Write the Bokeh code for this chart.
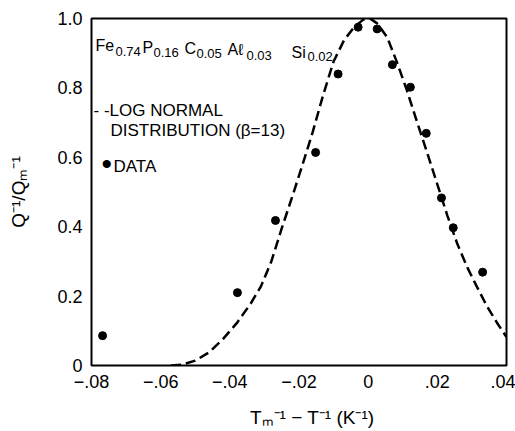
from bokeh.plotting import figure
from bokeh.models import Range1d, FixedTicker, Label, ColumnDataSource
from bokeh.embed import file_html
from bokeh.resources import INLINE

# ---- data ----
data_x = [-0.0768, -0.0378, -0.0268, -0.0152, -0.0087, -0.0029, 0.0026, 0.0070,
          0.0122, 0.0168, 0.0212, 0.0246, 0.0331]
data_y = [0.086, 0.210, 0.418, 0.614, 0.840, 0.975, 0.970, 0.867,
          0.802, 0.669, 0.483, 0.397, 0.269]

curve_x = [-0.0570, -0.0540, -0.0500, -0.0460, -0.0420, -0.0380, -0.0340, -0.0310,
           -0.0280, -0.0250, -0.0220, -0.0190, -0.0160, -0.0130, -0.0100, -0.0070,
           -0.0040, -0.0015, 0.0005, 0.0026, 0.0055, 0.0084, 0.0113, 0.0142,
           0.0171, 0.0200, 0.0229, 0.0258, 0.0287, 0.0315, 0.0344, 0.0372, 0.0400]
curve_y = [0.000, 0.002, 0.014, 0.038, 0.076, 0.122, 0.178, 0.228,
           0.300, 0.395, 0.485, 0.578, 0.674, 0.780, 0.876, 0.937,
           0.976, 0.996, 1.000, 0.986, 0.946, 0.872, 0.790, 0.700,
           0.612, 0.522, 0.432, 0.350, 0.282, 0.226, 0.170, 0.124, 0.082]

x_ticks = [-0.08, -0.06, -0.04, -0.02, 0.0, 0.02, 0.04]
x_tick_labels = ["\u2212.08", "\u2212.06", "\u2212.04", "\u2212.02", "0", ".02", ".04"]
y_ticks = [0.0, 0.2, 0.4, 0.6, 0.8, 1.0]
y_tick_labels = ["0", "0.2", "0.4", "0.6", "0.8", "1.0"]

x_title = "\u00a0" * 5 + "T\u2098\u207b\u00b9 \u2212 T\u207b\u00b9 (K\u207b\u00b9)"
y_title = "Q\u207b\u00b9/Q\u2098\u207b\u00b9"

# ---- layout ----
W, H = 515, 431
L, R, T, B = 91, 9, 18, 66
FONT = "Liberation Sans"
X0, X1 = -0.08, 0.04
Y0, Y1 = 0.0, 1.0

p = figure(width=W, height=H, output_backend="svg", toolbar_location=None,
           title=None, x_range=Range1d(X0, X1), y_range=Range1d(Y0, Y1),
           min_border_left=L, min_border_right=R, min_border_top=T, min_border_bottom=B)
p.background_fill_color = "white"
p.border_fill_color = "white"
p.grid.visible = False
p.outline_line_color = "black"
p.outline_line_width = 2
p.outline_line_alpha = 1.0

for ax, ticks, labels, standoff, title, tstand in (
        (p.xaxis[0], x_ticks, x_tick_labels, 9, x_title, 16),
        (p.yaxis[0], y_ticks, y_tick_labels, 9, y_title, 25)):
    ax.ticker = FixedTicker(ticks=ticks)
    ax.major_label_overrides = {t: l for t, l in zip(ticks, labels)}
    ax.major_tick_line_color = None
    ax.minor_tick_line_color = None
    ax.major_tick_in = 0
    ax.major_tick_out = 0
    ax.axis_line_color = None
    ax.major_label_text_font = FONT
    ax.major_label_text_font_size = "18px"
    ax.major_label_text_color = "black"
    ax.major_label_standoff = standoff
    ax.axis_label = title
    ax.axis_label_text_font = FONT
    ax.axis_label_text_font_size = "19px"
    ax.axis_label_text_font_style = "normal"
    ax.axis_label_text_color = "black"
    ax.axis_label_standoff = tstand

src_c = ColumnDataSource(dict(x=curve_x, y=curve_y))
p.line("x", "y", source=src_c, line_color="black", line_width=2.5, line_dash="10 5")
src_d = ColumnDataSource(dict(x=data_x, y=data_y))
p.scatter("x", "y", source=src_d, marker="circle", size=8, fill_color="black", line_color="black")


def lab(text, px, py, size):
    # px, py: canvas pixels from the top-left corner
    p.add_layout(Label(x=px, y=py, x_units="canvas", y_units="canvas", text=text,
                       text_font=FONT, text_font_size=f"{size}px", text_color="black",
                       text_align="left", text_baseline="alphabetic"))


# composition formula
lab("Fe", 95, 45, 16)
lab("0.74", 115, 51, 13)
lab("P", 142, 47, 16)
lab("0.16", 153, 52, 13)
lab("C", 184, 48, 16)
lab("0.05", 196, 53, 13)
lab("A\u2113", 227, 49, 16)
lab("0.03", 246, 55, 13)
lab("Si", 291, 52, 16)
lab("0.02", 307, 56, 13)

# legend text
lab("- -LOG NORMAL", 93, 110, 17)
lab("DISTRIBUTION (\u03b2=13)", 110, 130, 17)
lab("\u2022", 101, 163, 30)
lab("DATA", 113, 166, 17)

open("out.html", "w").write(file_html(p, INLINE))
